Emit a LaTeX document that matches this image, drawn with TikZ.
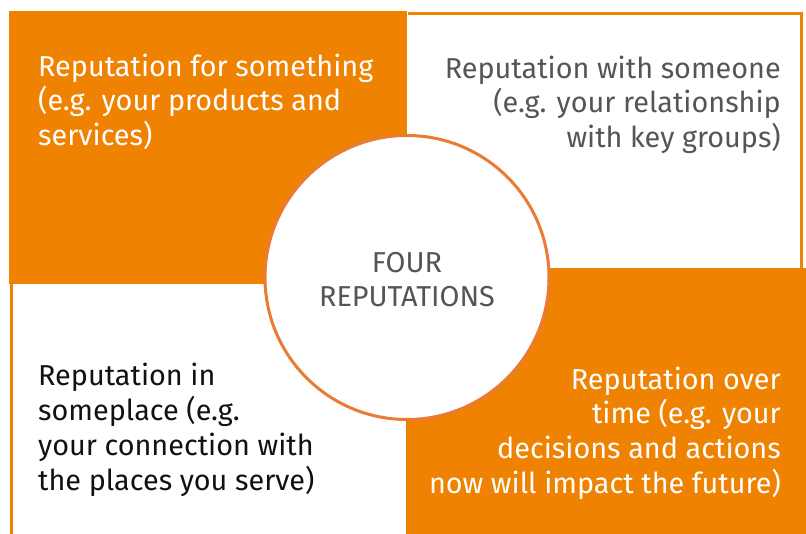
\documentclass[tikz,border=0pt]{standalone}
\usepackage{fontspec}
\setmainfont{Fira Sans}
\usetikzlibrary{positioning}
\definecolor{repOrange}{HTML}{EF8200}
\definecolor{ringOrange}{HTML}{E97B35}
\definecolor{repGray}{HTML}{555555}
\definecolor{repInk}{HTML}{111111}

\begin{document}
\begin{tikzpicture}[x=1pt,y=-1pt,
    blurb/.style={inner sep=0pt,font=\fontsize{28.8}{34.8}\selectfont},
    frame/.style={draw=repOrange,line width=3pt}]
  \useasboundingbox (0,0) rectangle (806,534);
  % quadrants
  \fill[repOrange] (9,11) rectangle (407,284);
  \draw[frame] (408,13.5) -- (801.5,13.5) -- (801.5,268);
  \fill[repOrange] (406,268) rectangle (806,534);
  \draw[frame] (11.5,284) -- (11.5,534);
  % hub
  \node[circle,draw=ringOrange,line width=3pt,fill=white,minimum size=284pt,inner sep=0pt] (hub) at (407,277.5) {};
  \node[blurb,align=center,text=repGray] (title) at (407,279.5) {FOUR\\REPUTATIONS};
  % corner texts
  \node[blurb,anchor=north west,align=left,text=white] (something) at (38,53.5)
    {Reputation for something\\(e.g. your products and\\services)};
  \node[blurb,anchor=north east,align=right,text=repGray] (someone) at (781,55.5)
    {Reputation with someone\\(e.g. your relationship\\with key groups)};
  \node[blurb,anchor=north west,align=left,text=repInk] (someplace) at (38,363)
    {Reputation in\\someplace (e.g.\\your connection with\\the places you serve)};
  \node[blurb,anchor=north east,align=right,text=white] (overtime) at (781,366.5)
    {Reputation over\\time (e.g. your\\decisions and actions\\now will impact the future)};
\end{tikzpicture}
\end{document}
